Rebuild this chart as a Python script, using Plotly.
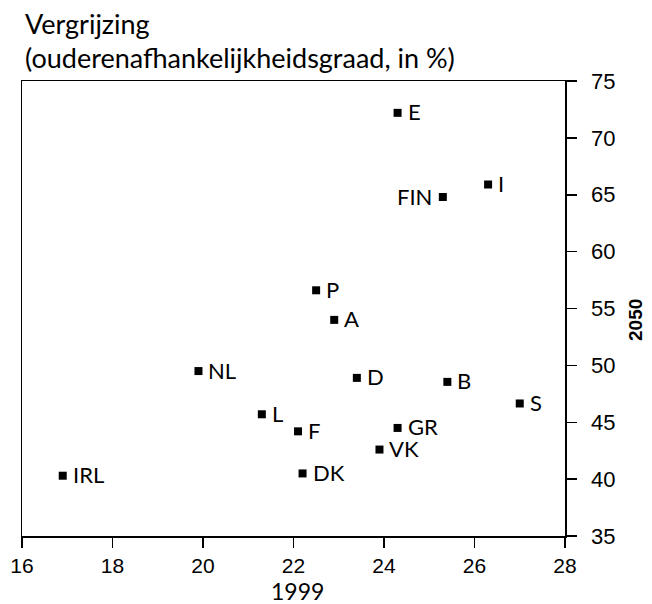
import plotly.graph_objects as go

countries = ["E", "I", "FIN", "P", "A", "NL", "D", "B", "S", "L", "F", "GR", "VK", "DK", "IRL"]
x_1999 = [24.3, 26.3, 25.3, 22.5, 22.9, 19.9, 23.4, 25.4, 27.0, 21.3, 22.1, 24.3, 23.9, 22.2, 16.9]
y_2050 = [72.2, 65.9, 64.8, 56.6, 54.0, 49.5, 48.9, 48.55, 46.65, 45.7, 44.2, 44.5, 42.6, 40.5, 40.3]
x_ticks = [16, 18, 20, 22, 24, 26, 28]
y_ticks = [35, 40, 45, 50, 55, 60, 65, 70, 75]
title_lines = ["Vergrijzing", "(ouderenafhankelijkheidsgraad, in %)"]
x_title = "1999"
y_title = "2050"
left_labelled = {"FIN"}

W, H = 652, 604
L, R, T, B = 22, 87, 81, 68
PW, PH = W - L - R, H - T - B

def px(xp):
    return (xp - L) / PW

def py(yp):
    return (H - B - yp) / PH

humanist = "Lato, 'Open Sans', sans-serif"
label_font = dict(family=humanist, size=22, color="black")

fig = go.Figure()
fig.add_trace(go.Scatter(
    x=x_1999, y=y_2050, mode="markers",
    marker=dict(symbol="square", size=8, color="black"),
    hoverinfo="skip", showlegend=False,
))

for c, xv, yv in zip(countries, x_1999, y_2050):
    left = c in left_labelled
    fig.add_annotation(
        x=xv, y=yv, text=c, showarrow=False,
        xanchor="right" if left else "left", yanchor="middle",
        xshift=-9 if left else 8, yshift=1,
        font=label_font,
    )

# title lines
for i, line in enumerate(title_lines):
    fig.add_annotation(
        xref="paper", yref="paper", x=px(23), y=py(23 + 35 * i),
        text=line, showarrow=False, xanchor="left", yanchor="middle",
        font=dict(family=humanist, size=27, color="black"),
    )

fig.add_annotation(
    xref="paper", yref="paper", x=px(297), y=py(591),
    text=x_title, showarrow=False, xanchor="center", yanchor="middle",
    font=dict(family=humanist, size=23, color="black"),
)
fig.add_annotation(
    xref="paper", yref="paper", x=px(635), y=py(320),
    text="<b>" + y_title + "</b>", showarrow=False, xanchor="center", yanchor="middle",
    textangle=-90,
    font=dict(family="Liberation Sans, Arial, sans-serif", size=19, color="black"),
)

fig.update_layout(
    width=W, height=H,
    margin=dict(l=L, r=R, t=T, b=B),
    paper_bgcolor="white", plot_bgcolor="white",
)

fig.update_xaxes(
    range=[16, 28], tickvals=x_ticks, ticktext=[str(v) for v in x_ticks],
    showgrid=False, zeroline=False,
    showline=True, linecolor="black", linewidth=1.5, mirror=True,
    ticks="outside", ticklen=10, tickwidth=1.5, tickcolor="black",
    tickfont=dict(family="Liberation Sans, Arial, sans-serif", size=21, color="black"),
    automargin=False,
)
fig.update_yaxes(
    range=[35, 75], tickvals=y_ticks, ticktext=[str(v) for v in y_ticks],
    side="right",
    showgrid=False, zeroline=False,
    showline=True, linecolor="black", linewidth=1.5, mirror=True,
    ticks="outside", ticklen=10, tickwidth=1.5, tickcolor="black",
    tickfont=dict(family="Liberation Sans, Arial, sans-serif", size=22, color="black"),
    ticklabelstandoff=10,
    automargin=False,
)

fig.write_html(
    "out.html",
    config={"displayModeBar": False, "staticPlot": True},
    post_script="document.body.style.margin='0';document.body.style.padding='0';",
)
